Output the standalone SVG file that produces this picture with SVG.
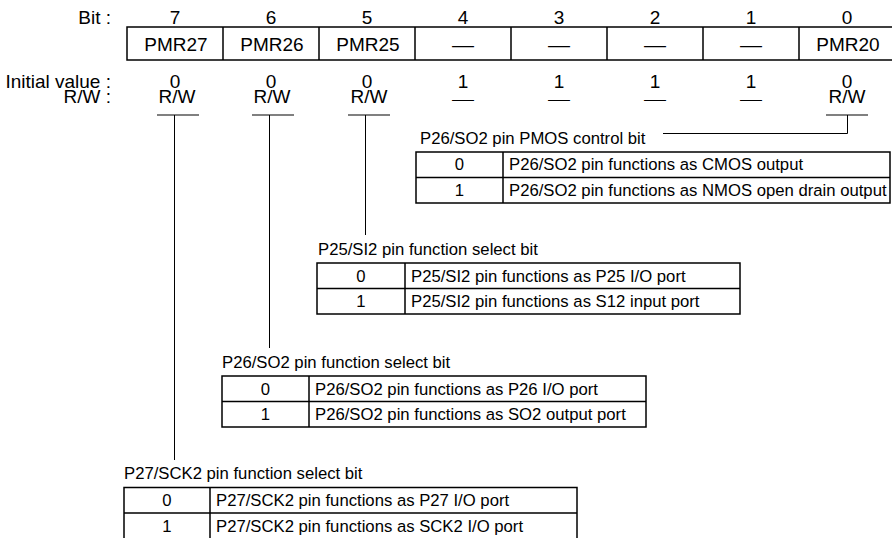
<svg xmlns="http://www.w3.org/2000/svg" width="892" height="538" viewBox="0 0 892 538">
<style>
text{font-family:"Liberation Sans",Arial,sans-serif;font-size:16.7px;fill:#000}
.r{font-size:19px}
.m{text-anchor:middle}
.e{text-anchor:end}
.d{font-size:19px;text-anchor:middle}
.ds{font-size:14px;text-anchor:middle}
.b{fill:none;stroke:#000;stroke-width:1.5}
.u{stroke:#808080;stroke-width:2}
.c{fill:none;stroke:#000;stroke-width:1}
</style>
<rect width="892" height="538" fill="#fff"/>
<g id="register">
<text class="r e" x="111" y="24">Bit :</text>
<text class="r m" x="175" y="24">7</text>
<text class="r m" x="271" y="24">6</text>
<text class="r m" x="367" y="24">5</text>
<text class="r m" x="463" y="24">4</text>
<text class="r m" x="559" y="24">3</text>
<text class="r m" x="655" y="24">2</text>
<text class="r m" x="751" y="24">1</text>
<text class="r m" x="847" y="24">0</text>
<rect class="b" x="127" y="27" width="768" height="33"/>
<path class="b" d="M223 27V60M319 27V60M415 27V60M511 27V60M607 27V60M703 27V60M799 27V60"/>
<text class="r m" x="176" y="51">PMR27</text>
<text class="r m" x="272" y="51">PMR26</text>
<text class="r m" x="368" y="51">PMR25</text>
<text class="d" x="463" y="50.5" textLength="22" lengthAdjust="spacingAndGlyphs">—</text>
<text class="d" x="559" y="50.5" textLength="22" lengthAdjust="spacingAndGlyphs">—</text>
<text class="d" x="655" y="50.5" textLength="22" lengthAdjust="spacingAndGlyphs">—</text>
<text class="d" x="751" y="50.5" textLength="22" lengthAdjust="spacingAndGlyphs">—</text>
<text class="r m" x="848" y="51">PMR20</text>
<text class="r e" x="111" y="87.5">Initial value :</text>
<text class="r m" x="175" y="87.5">0</text>
<text class="r m" x="271" y="87.5">0</text>
<text class="r m" x="367" y="87.5">0</text>
<text class="r m" x="463" y="87.5">1</text>
<text class="r m" x="559" y="87.5">1</text>
<text class="r m" x="655" y="87.5">1</text>
<text class="r m" x="751" y="87.5">1</text>
<text class="r m" x="847" y="87.5">0</text>
<text class="r e" x="111" y="103">R/W :</text>
<text class="r m" x="177" y="103">R/W</text>
<text class="r m" x="272" y="103">R/W</text>
<text class="r m" x="369" y="103">R/W</text>
<text class="ds" x="463" y="104" textLength="22" lengthAdjust="spacingAndGlyphs">—</text>
<text class="ds" x="559" y="104" textLength="22" lengthAdjust="spacingAndGlyphs">—</text>
<text class="ds" x="655" y="104" textLength="22" lengthAdjust="spacingAndGlyphs">—</text>
<text class="ds" x="751" y="104" textLength="22" lengthAdjust="spacingAndGlyphs">—</text>
<text class="r m" x="847" y="103">R/W</text>
<path class="u" d="M157 115H199M252 115H294M348 115H390M826 115H868"/>
</g>
<g id="connectors">
<path class="c" d="M174.5 115V460"/>
<path class="c" d="M269.5 115V348"/>
<path class="c" d="M365.5 115V235"/>
<path class="c" d="M847.5 115V133.5H663"/>
</g>
<g id="pmos-table">
<text x="420" y="144">P26/SO2 pin PMOS control bit</text>
<rect class="b" x="416" y="152" width="474" height="51"/>
<path class="b" d="M416 177.5H890M503 152V203"/>
<text class="m" x="459.5" y="170">0</text>
<text x="509" y="170">P26/SO2 pin functions as CMOS output</text>
<text class="m" x="459.5" y="195.5">1</text>
<text x="509" y="195.5">P26/SO2 pin functions as NMOS open drain output</text>
</g>
<g id="p25-table">
<text x="318" y="255">P25/SI2 pin function select bit</text>
<rect class="b" x="317" y="263" width="423" height="51"/>
<path class="b" d="M317 288.5H740M405 263V314"/>
<text class="m" x="361" y="281.5">0</text>
<text x="411" y="281.5">P25/SI2 pin functions as P25 I/O port</text>
<text class="m" x="361" y="307">1</text>
<text x="411" y="307">P25/SI2 pin functions as S12 input port</text>
</g>
<g id="p26-table">
<text x="222" y="368">P26/SO2 pin function select bit</text>
<rect class="b" x="222" y="376" width="424" height="51"/>
<path class="b" d="M222 401.5H646M309 376V427"/>
<text class="m" x="265.5" y="394.5">0</text>
<text x="315" y="394.5">P26/SO2 pin functions as P26 I/O port</text>
<text class="m" x="265.5" y="420">1</text>
<text x="315" y="420">P26/SO2 pin functions as SO2 output port</text>
</g>
<g id="p27-table">
<text x="124" y="479">P27/SCK2 pin function select bit</text>
<rect class="b" x="124" y="487.5" width="453" height="52"/>
<path class="b" d="M124 513H577M210 487.5V540"/>
<text class="m" x="167" y="506">0</text>
<text x="216" y="506">P27/SCK2 pin functions as P27 I/O port</text>
<text class="m" x="167" y="531.5">1</text>
<text x="216" y="531.5">P27/SCK2 pin functions as SCK2 I/O port</text>
</g>
</svg>
